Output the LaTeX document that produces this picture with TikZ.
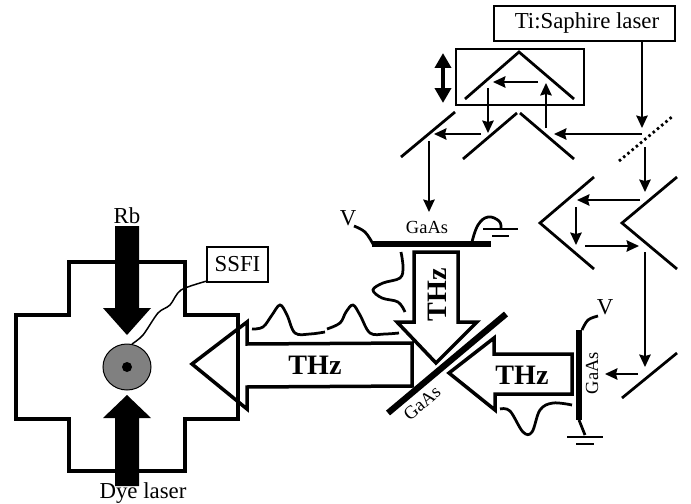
\documentclass[tikz,border=0pt]{standalone}
\usepackage{fontspec}
\setmainfont{Liberation Serif}
\usetikzlibrary{arrows.meta}
\tikzset{
  beam/.style={line width=0.36mm,-{Stealth[length=2.5mm,width=2.3mm,inset=0.3mm]}},
  mirror/.style={line width=0.55mm},
  plate/.style={line width=1.1mm},
  hollow/.style={line width=0.7mm,line join=miter},
  wave/.style={line width=0.55mm},
  frame/.style={draw,line width=0.3mm,minimum height=0.7cm,inner sep=0pt},
  gaas/.style={font=\fontsize{10.5pt}{10.5pt}\selectfont,inner sep=0pt},
  word/.style={font=\fontsize{13pt}{13pt}\selectfont,inner sep=0pt},
  thz/.style={font=\fontsize{16pt}{16pt}\selectfont\bfseries,inner sep=0pt},
}
\begin{document}
\begin{tikzpicture}[x=0.02cm,y=-0.02cm]
  \useasboundingbox (0,0) rectangle (691,504);
  % chamber
  \draw[line width=0.8mm,line join=miter] (69,262) -- (185,262) -- (185,315) -- (238,315) -- (238,419) -- (185,419) -- (185,471) -- (69,471) -- (69,419) -- (16,419) -- (16,315) -- (69,315) -- cycle;
  \fill (115,226) -- (139,226) -- (139,308) -- (151,308) -- (127,335) -- (103,308) -- (115,308) -- cycle;
  \fill (115,486) -- (139,486) -- (139,418) -- (151,418) -- (127,395) -- (103,418) -- (115,418) -- cycle;
  \draw[fill=gray,line width=0.2mm] (127,367) ellipse (24 and 23);
  \fill (127,367) circle (5);
  \node[word] (rb) at (127,216) {Rb};
  \node[word] (dye) at (143,493) {Dye laser};
  \node[frame,minimum width=1.22cm,word] (ssfi) at (237.5,264.5) {SSFI};
  \draw[line width=0.3mm] plot[smooth,tension=0.5] coordinates {(132,344) (143,335) (158,313) (170,305) (181,290) (207,281)};

  % THz pulses
  \draw[hollow] (412,343) -- (247,344) -- (247,322) -- (192,364) -- (247,409) -- (247,387) -- (412,386) -- cycle;
  \node[thz] (thzleft) at (315,365) {THz};
  \draw[hollow] (414,322) -- (414,252) -- (458,252) -- (458,322) -- (477,322) -- (436,363) -- (397,322) -- cycle;
  \node[thz,rotate=90] (thzup) at (437,295) {THz};
  \draw[hollow] (572,354) -- (494,354) -- (494,338) -- (449,373) -- (495,410) -- (495,394) -- (572,394) -- cycle;
  \node[thz] (thzright) at (522,375) {THz};
  \draw[wave] plot[smooth,tension=0.6] coordinates {(252,329) (263,327) (272,315) (280,305) (287,315) (295,333) (310,334) (325,332)};
  \draw[wave] plot[smooth,tension=0.6] coordinates {(327,329) (340,323) (346,312) (353,305) (360,315) (370,333) (385,334) (399,333)};
  \draw[wave] plot[smooth,tension=0.6] coordinates {(401,252) (403,267) (400,278) (383,283) (373,290) (382,298) (398,302) (405,312)};
  \draw[wave] plot[smooth,tension=0.6] coordinates {(500,409) (510,411) (523,432) (532,432) (540,410) (553,403) (572,405)};

  % emitters
  \draw[plate,line width=1.25mm] (388,413) -- (506,314);
  \node[gaas,rotate=40] (gaasmid) at (422,403) {GaAs};
  \draw[plate] (372,244) -- (491,244);
  \node[gaas] (gaastop) at (427,227) {GaAs};
  \node[word] (vtop) at (348,218) {V};
  \draw[wave] plot[smooth,tension=0.6] coordinates {(354,226) (365,232) (373,244)};
  \draw[wave] plot[smooth,tension=0.7] coordinates {(472,242) (478,225) (488,217) (499,221) (501,228)};
  \draw[mirror] (483,229) -- (518,229);
  \draw[mirror] (492,236) -- (509,236);
  \draw[plate] (579,330) -- (579,420);
  \node[gaas,rotate=90] (gaasright) at (592,373) {GaAs};
  \node[word] (vright) at (605,307) {V};
  \draw[wave] plot[smooth,tension=0.6] coordinates {(598,316) (588,320) (582,330)};
  \draw[wave] (579,420) -- (585,435);
  \draw[mirror] (567,437) -- (603,437);
  \draw[mirror] (576,444) -- (594,444);

  % laser and delay line
  \node[frame,minimum width=3.62cm,minimum height=0.7cm,word] (ti) at (584.5,23.5) {\hspace{0.1cm}Ti:Saphire laser};
  \draw[line width=0.3mm] (456,49) rectangle (584,105);
  \draw[mirror] (465,99) -- (519,52) -- (574,99);
  \draw[mirror] (463,159) -- (517,113);
  \draw[mirror] (520,113) -- (574,159);
  \draw[mirror] (401,157) -- (455,112);
  \draw[mirror,dash pattern=on 0.5mm off 0.6mm] (619,161) -- (673,116);
  \draw[mirror] (594,177) -- (540,223) -- (594,269);
  \draw[mirror] (677,177) -- (622,223) -- (677,269);
  \draw[mirror] (622,398) -- (677,353);
  \draw[line width=0.8mm,{Stealth[length=3mm,width=3.2mm,inset=0mm]}-{Stealth[length=3mm,width=3.2mm,inset=0mm]}] (443,53) -- (443,103);

  \draw[beam] (642,41) -- (642,128);
  \draw[beam] (642,134) -- (554,134);
  \draw[beam] (546,128) -- (546,83);
  \draw[beam] (538,82) -- (493,82);
  \draw[beam] (488,88) -- (488,133);
  \draw[beam] (481,134) -- (434,134);
  \draw[beam] (429,141) -- (429,212);
  \draw[beam] (645,147) -- (645,192);
  \draw[beam] (640,200) -- (577,200);
  \draw[beam] (576,207) -- (576,245);
  \draw[beam] (585,246) -- (639,246);
  \draw[beam] (645,252) -- (645,367);
  \draw[beam] (638,374) -- (605,374);
\end{tikzpicture}
\end{document}
